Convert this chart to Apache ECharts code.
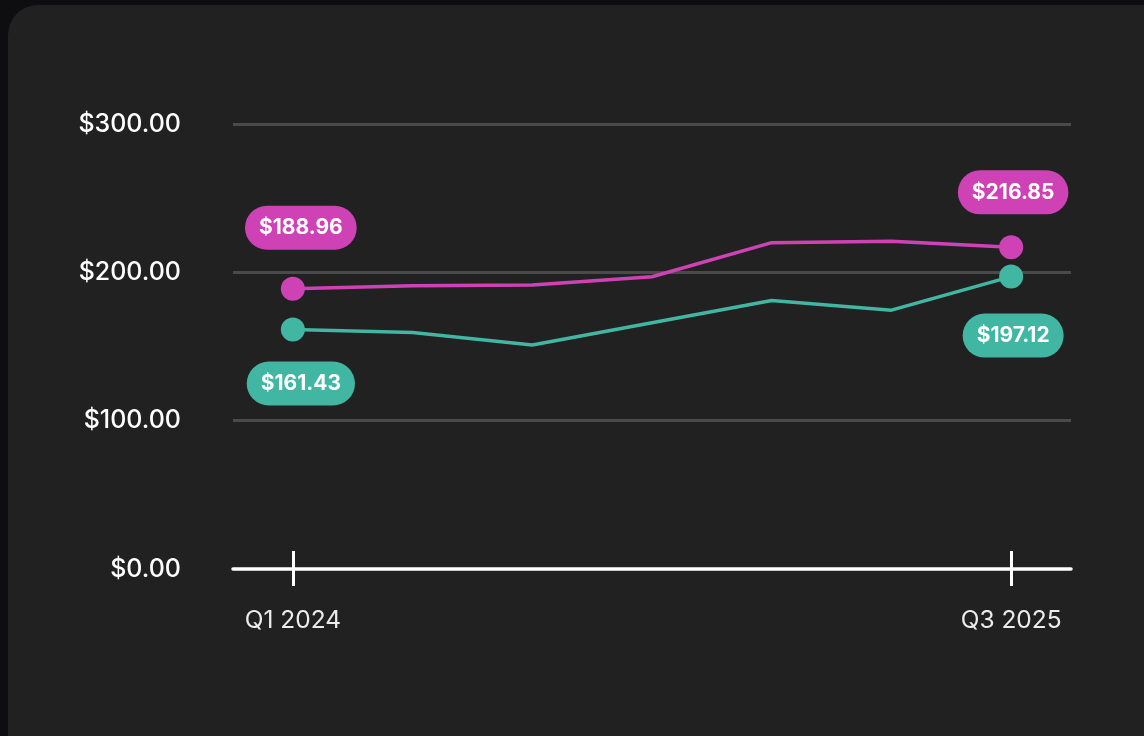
<!DOCTYPE html>
<html>
<head>
<meta charset="utf-8">
<script src="https://cdn.jsdelivr.net/npm/echarts@6/dist/echarts.min.js"></script>
<style>
html,body{margin:0;padding:0;width:1144px;height:736px;overflow:hidden;background:#0e0e11;}
#card{position:absolute;left:8px;top:5px;width:1180px;height:780px;border-radius:30px;background:#212121;}
#chart{position:absolute;left:0;top:0;width:1144px;height:736px;}
</style>
</head>
<body>
<div id="card"></div>
<div id="chart"></div>
<script>
const categories = ['Q1 2024','Q2 2024','Q3 2024','Q4 2024','Q1 2025','Q2 2025','Q3 2025'];
const shownTicks = ['Q1 2024','Q3 2025'];
const pinkValues = [188.96, 191, 191.5, 197, 220, 221, 216.85];
const tealValues = [161.43, 159.5, 151, 166, 181, 174.5, 197.12];
const yTicks = [0, 100, 200, 300];
const pinkColor = '#CF42B6';
const tealColor = '#40B6A3';
const FONT = 'Inter';

function money(v){ return '$' + v.toFixed(2); }

function buildData(values, color, offsets){
  const last = values.length - 1;
  return values.map((v, i) => {
    if (i === 0 || i === last) {
      return {
        value: v,
        symbol: 'circle',
        symbolSize: 24,
        label: {
          show: true,
          formatter: money(v),
          position: 'inside',
          offset: offsets[i === 0 ? 0 : 1],
          backgroundColor: color,
          color: '#ffffff',
          fontFamily: FONT,
          fontWeight: 'bold',
          fontSize: 21,
          lineHeight: 24,
          borderRadius: 22,
          padding: [10, 14, 10, 14]
        }
      };
    }
    return { value: v, symbol: 'none', symbolSize: 0 };
  });
}

const chart = echarts.init(document.getElementById('chart'), null, {renderer: 'canvas'});
const showIdx = (i) => shownTicks.includes(categories[i]);

chart.setOption({
  backgroundColor: 'transparent',
  animation: false,
  grid: { left: 233, right: 73, top: 124, bottom: 167 },
  xAxis: [{
    type: 'category',
    data: categories,
    boundaryGap: true,
    axisLine: { show: true, lineStyle: { color: '#ffffff', width: 3.5 } },
    axisTick: { show: true, alignWithLabel: true, length: 17, interval: (i) => showIdx(i), lineStyle: { color: '#ffffff', width: 3 } },
    axisLabel: { show: true, interval: (i) => showIdx(i), margin: 39, color: '#ececec', fontFamily: FONT, fontSize: 24.5 },
    splitLine: { show: false }
  }, {
    type: 'category',
    data: categories,
    position: 'bottom',
    boundaryGap: true,
    axisLine: { show: false },
    axisTick: { show: true, inside: true, alignWithLabel: true, length: 18, interval: (i) => showIdx(i), lineStyle: { color: '#ffffff', width: 3 } },
    axisLabel: { show: false },
    splitLine: { show: false }
  }],
  yAxis: {
    type: 'value',
    min: yTicks[0],
    max: yTicks[yTicks.length - 1],
    interval: 100,
    axisLine: { show: false },
    axisTick: { show: false },
    axisLabel: { formatter: (v) => money(v), margin: 52, color: '#ffffff', fontFamily: FONT, fontWeight: 500, fontSize: 25 },
    splitLine: { show: true, lineStyle: { color: '#4a4a4a', width: 3 }, showMinLine: false }
  },
  series: [{
    type: 'line',
    name: 'pink',
    data: buildData(pinkValues, pinkColor, [[8, -61], [2, -55]]),
    lineStyle: { color: pinkColor, width: 3.5 },
    itemStyle: { color: pinkColor },
    z: 3
  }, {
    type: 'line',
    name: 'teal',
    data: buildData(tealValues, tealColor, [[8, 54], [2, 59]]),
    lineStyle: { color: tealColor, width: 3.5 },
    itemStyle: { color: tealColor },
    z: 3
  }]
});
</script>
</body>
</html>
